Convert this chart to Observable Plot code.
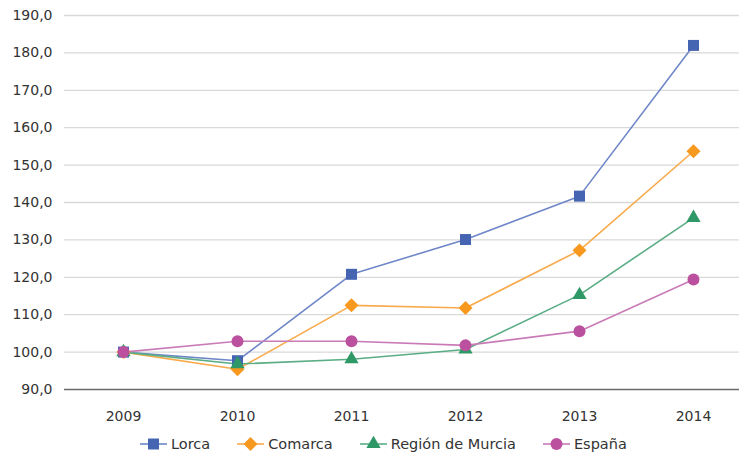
<!DOCTYPE html>
<html><head><meta charset="utf-8">
<script src="https://cdn.jsdelivr.net/npm/d3@7"></script>
<script src="https://cdn.jsdelivr.net/npm/@observablehq/plot@0.6"></script>
<style>
body{margin:0;background:#fff;font-family:"DejaVu Sans",sans-serif;}
#legend{display:flex;align-items:center;height:27px;padding-left:140px;font-size:14.5px;color:#333;}
.item{display:flex;align-items:center;margin-right:27px;}
.item svg{margin-right:4px;}
</style></head><body><div id="chart"></div><div id="legend"></div>
<script>
const years = ["2009","2010","2011","2012","2013","2014"];
const lorca = [100, 97.7, 120.8, 130.1, 141.7, 182.0];
const comarca = [100, 95.4, 112.5, 111.8, 127.2, 153.7];
const regionMurcia = [100, 96.8, 98.1, 100.7, 115.3, 135.9];
const espana = [100, 102.9, 102.9, 101.8, 105.6, 119.4];
const seriesNames = ["Lorca", "Comarca", "Región de Murcia", "España"];
const yTicks = [90, 100, 110, 120, 130, 140, 150, 160, 170, 180, 190];

const seriesValues = [lorca, comarca, regionMurcia, espana];
const styles = [
  {line: "#6f87c8", mark: "#4565b3", symbol: "square", r: 6.2},
  {line: "#f8aa4c", mark: "#f7981f", symbol: "diamond2", r: 6.3},
  {line: "#5aad85", mark: "#2e9966", symbol: "triangle", r: 5.3},
  {line: "#c97bb8", mark: "#bb509f", symbol: "circle", r: 6}
];
const table = [];
seriesNames.forEach((name, i) => years.forEach((y, j) => table.push({series: name, year: y, value: seriesValues[i][j]})));

const fmt = d => d.toFixed(1).replace(".", ",");
const marks = [
  Plot.ruleY(yTicks.filter(d => d > 90), {stroke: "#d9d9d9", strokeWidth: 1.3}),
  Plot.ruleY([90], {stroke: "#6b6b6b", strokeWidth: 1.3})
];
seriesNames.forEach((name, i) => {
  const data = table.filter(d => d.series === name);
  marks.push(Plot.line(data, {x: "year", y: "value", stroke: styles[i].line, strokeWidth: 1.6}));
});
seriesNames.forEach((name, i) => {
  const data = table.filter(d => d.series === name);
  marks.push(Plot.dot(data, {x: "year", y: "value", fill: styles[i].mark, symbol: styles[i].symbol, r: styles[i].r}));
});

const chart = Plot.plot({
  width: 739, height: 430,
  marginLeft: 64, marginRight: 0, marginTop: 15, marginBottom: 41,
  x: {type: "point", domain: years, range: [121, 694], padding: 0, label: null, tickSize: 0, tickPadding: 22},
  y: {domain: [90, 190], ticks: yTicks, tickFormat: fmt, label: null, tickSize: 0, tickPadding: 12},
  style: {fontFamily: "DejaVu Sans", fontSize: "14px", color: "#333", background: "#fff"},
  marks
});
document.getElementById("chart").appendChild(chart);

const legend = document.getElementById("legend");
seriesNames.forEach((name, i) => {
  const s = styles[i];
  const item = document.createElement("div");
  item.className = "item";
  const sym = {square: d3.symbolSquare, diamond2: d3.symbolDiamond2, triangle: d3.symbolTriangle, circle: d3.symbolCircle}[s.symbol];
  const path = d3.symbol(sym, Math.PI * s.r * s.r)();
  item.innerHTML = `<svg width="27" height="16"><line x1="0" x2="27" y1="8" y2="8" stroke="${s.line}" stroke-width="1.6"/><path d="${path}" transform="translate(13.5,8)" fill="${s.mark}"/></svg><span>${name}</span>`;
  legend.appendChild(item);
});
</script></body></html>
